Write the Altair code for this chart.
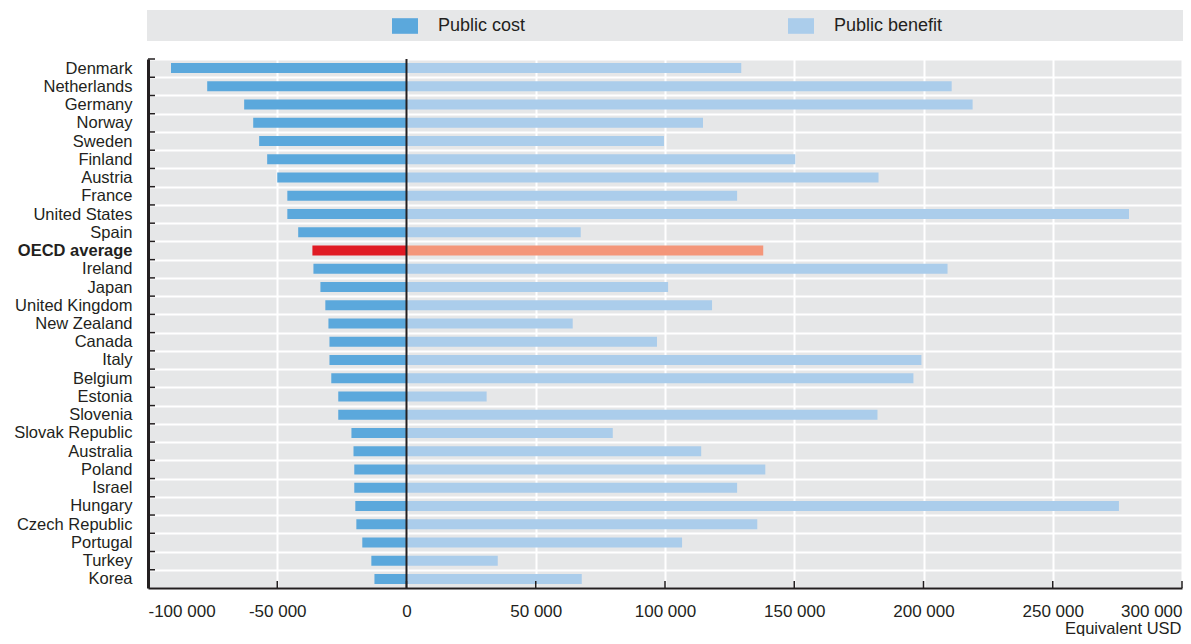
import altair as alt
import pandas as pd

countries = ["Denmark", "Netherlands", "Germany", "Norway", "Sweden", "Finland", "Austria",
             "France", "United States", "Spain", "OECD average", "Ireland", "Japan",
             "United Kingdom", "New Zealand", "Canada", "Italy", "Belgium", "Estonia",
             "Slovenia", "Slovak Republic", "Australia", "Poland", "Israel", "Hungary",
             "Czech Republic", "Portugal", "Turkey", "Korea"]

public_cost = [-91100, -77100, -62800, -59300, -57000, -53900, -50000, -46100, -46100,
               -41900, -36400, -36000, -33300, -31400, -30200, -29800, -29800, -29100,
               -26400, -26400, -21300, -20500, -20200, -20200, -19800, -19400, -17100,
               -13600, -12400]

public_benefit = [129500, 210900, 219000, 114700, 99600, 150400, 182600, 127900, 279500,
                  67400, 138000, 209300, 101200, 118200, 64300, 96900, 199200, 196100,
                  31000, 182200, 79800, 114000, 138800, 127900, 275600, 135700, 106600,
                  35300, 67800]

x_ticks = [-100000, -50000, 0, 50000, 100000, 150000, 200000, 250000, 300000]

series_names = ["Public cost", "Public benefit", "OECD cost", "OECD benefit"]
series_colors = ["#5ba8dc", "#abcdeb", "#e01b24", "#f4967a"]

rows = []
for c, vc, vb in zip(countries, public_cost, public_benefit):
    oecd = c == "OECD average"
    rows.append({"country": c, "value": vc, "series": "OECD cost" if oecd else "Public cost"})
    rows.append({"country": c, "value": vb, "series": "OECD benefit" if oecd else "Public benefit"})
df = pd.DataFrame(rows)

W, H = 1034, 529
FONT = "Liberation Sans"
TXT = "#231f20"
BG = "#e6e7e8"

label_expr = ("(datum.value < 0 ? '-' : '') + "
              "replace(format(abs(datum.value), ',d'), regexp(',', 'g'), ' ')")

x_enc = alt.X("value:Q",
              scale=alt.Scale(domain=[-100000, 300000], nice=False, zero=False),
              axis=alt.Axis(values=x_ticks, labelExpr=label_expr, title="Equivalent USD",
                            grid=True, gridColor="white", gridWidth=2,
                            domainColor=TXT, domainWidth=2, tickSize=0, labelPadding=15,
                            labelFont=FONT, labelFontSize=17, labelColor=TXT,
                            titleFont=FONT, titleFontSize=16.5, titleFontWeight="normal",
                            titleColor=TXT, titleAnchor="end", titleAlign="right",
                            titleBaseline="top", titleX=W - 1, titleY=32))

y_enc = alt.Y("country:N", sort=countries,
              scale=alt.Scale(paddingInner=0, paddingOuter=0),
              axis=alt.Axis(title=None, tickBand="extent", tickSize=0, labelPadding=16,
                            grid=True, gridColor="white", gridWidth=2,
                            domainColor=TXT, domainWidth=3,
                            labelFont=FONT, labelFontSize=16.5, labelColor=TXT,
                            labelFontWeight=alt.condition("datum.value == 'OECD average'",
                                                          alt.value("bold"), alt.value("normal"))))

bars = alt.Chart(df).mark_bar(size=10).encode(
    x=x_enc,
    y=y_enc,
    color=alt.Color("series:N",
                    scale=alt.Scale(domain=series_names, range=series_colors),
                    legend=alt.Legend(values=["Public cost", "Public benefit"], title=None,
                                      orient="none", direction="horizontal", columns=2,
                                      legendX=244, legendY=-46, padding=0,
                                      columnPadding=262,
                                      symbolType="M-1,-0.6H1V0.6H-1Z", symbolSize=676,
                                      symbolStrokeWidth=0, symbolOpacity=1,
                                      labelFont=FONT, labelFontSize=18, labelColor=TXT,
                                      labelOffset=20)),
).properties(width=W, height=H)

band = alt.Chart(pd.DataFrame({"k": [0]})).mark_rect(color=BG).encode(
    x=alt.value(-1), x2=alt.value(W + 1), y=alt.value(-49), y2=alt.value(-18))

zero_line = alt.Chart(pd.DataFrame({"z": [0]})).mark_rule(color=TXT, strokeWidth=2).encode(
    x=alt.X("z:Q"))

y_ticks = alt.Chart(pd.DataFrame({"country": countries})).mark_rule(
    color=TXT, strokeWidth=1.5).encode(
    y=alt.Y("country:N", sort=countries, bandPosition=0),
    x=alt.value(0), x2=alt.value(7))

x_tick_marks = alt.Chart(pd.DataFrame({"t": x_ticks[1:]})).mark_rule(
    color=TXT, strokeWidth=1.5).encode(
    x=alt.X("t:Q"), y=alt.value(H - 7), y2=alt.value(H))

chart = alt.layer(band, bars, zero_line, y_ticks, x_tick_marks).properties(
    autosize=alt.AutoSizeParams(type="none"),
    padding={"left": 140, "top": 51, "right": 1, "bottom": 48},
    background="white",
).configure_view(fill=BG, strokeWidth=0)

chart.save("out.html", embed_options={"renderer": "svg", "actions": False})
